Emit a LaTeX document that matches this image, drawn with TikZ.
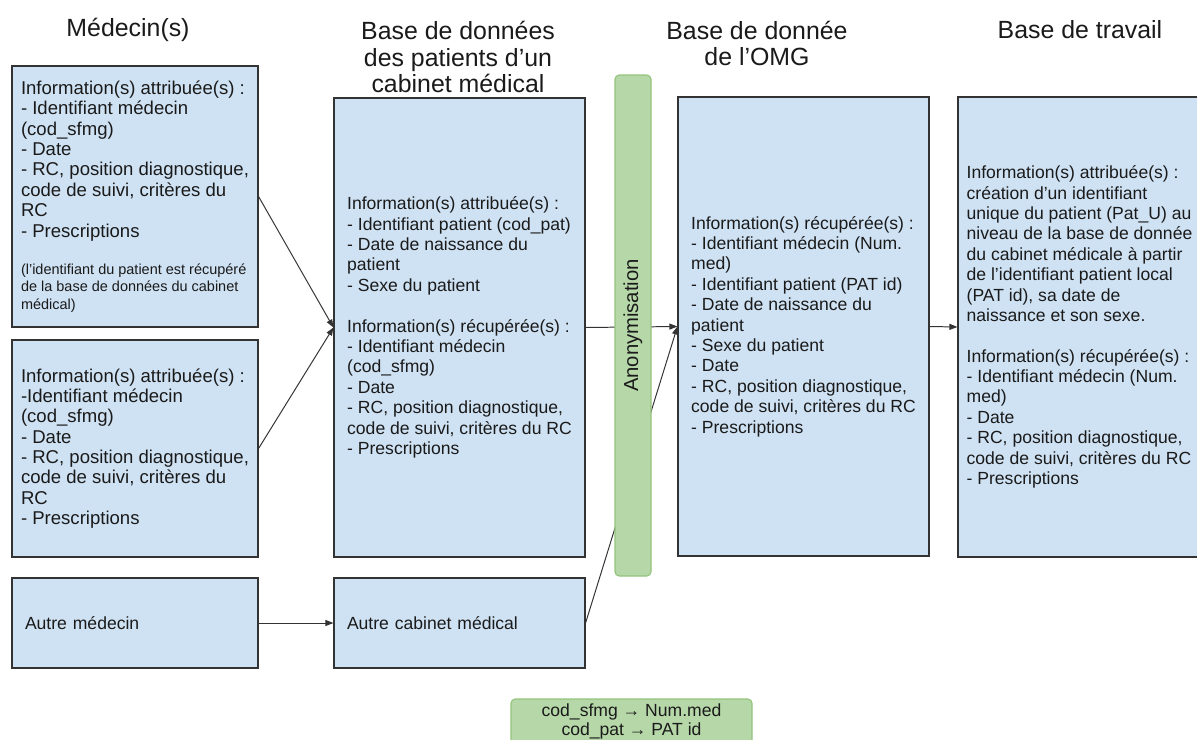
\documentclass[tikz,border=0pt]{standalone}
\usepackage{fontspec}
\setmainfont{Liberation Sans}
\usepackage{xcolor}
\definecolor{MGblue}{HTML}{CFE2F3}
\definecolor{MGgreen}{HTML}{B6D7A8}
\definecolor{MGgreenline}{HTML}{93C47D}
\definecolor{MGline}{HTML}{333333}
\definecolor{MGtext}{HTML}{1A1A1A}
\usepackage{tikz}
\usetikzlibrary{arrows.meta}
\newcommand{\notefont}{\fontsize{10.3}{12.4}\selectfont}

\begin{document}
\begin{tikzpicture}[
  box/.style={draw=MGline,line width=0.8pt,fill=MGblue,minimum width=6.15cm,
    align=left,inner sep=0pt,text=MGtext,font=\fontsize{12.5}{14.5}\selectfont},
  medbox/.style={box,font=\fontsize{13.2}{14.5}\selectfont},
  widebox/.style={box,minimum width=6.275cm,minimum height=11.475cm},
  title/.style={font=\fontsize{17.7}{18.9}\selectfont,align=center,text=MGtext},
  anon/.style={draw=MGgreenline,line width=0.8pt,fill=MGgreen,rounded corners=3pt,
    text=MGtext,font=\fontsize{14.4}{16}\selectfont,inner sep=0pt},
  edge/.style={-{Triangle[length=2mm,width=1.5mm]},draw=MGline,line width=0.7pt}]
\useasboundingbox (0,0) rectangle (29.925,-18.5);
% column titles
\node[title] (tmed) at (3.2,-0.75) {Médecin(s)};
\node[title] (tcab) at (11.45,-1.425) {Base de données\\des patients d’un\\cabinet médical};
\node[title] (tomg) at (18.925,-1.0875) {Base de donnée\\de l’OMG};
\node[title] (ttrav) at (27.0,-0.75) {Base de travail};
% doctors
\node[medbox,minimum height=6.525cm] (med1) at (3.375,-4.9125) {Information(s) attribuée(s) :\\
- Identifiant médecin\\
(cod\_sfmg)\\
- Date\\
- RC, position diagnostique,\\
code de suivi, critères du\\
RC\\
- Prescriptions\\[12pt]
\notefont (l’identifiant du patient est récupéré\\[-2.1pt]
\notefont de la base de données du cabinet\\[-2.1pt]
\notefont médical)};
\node[medbox,minimum height=5.425cm] (med2) at (3.375,-11.2125) {Information(s) attribuée(s) :\\
-Identifiant médecin\\
(cod\_sfmg)\\
- Date\\
- RC, position diagnostique,\\
code de suivi, critères du\\
RC\\
- Prescriptions};
\node[box,minimum height=2.25cm,text width=5.5cm] (med3) at (3.375,-15.575) {Autre médecin};
% databases
\node[widebox] (cab) at (11.4875,-8.1875) {Information(s) attribuée(s) :\\
- Identifiant patient (cod\_pat)\\
- Date de naissance du\\
patient\\
- Sexe du patient\\[14.5pt]
Information(s) récupérée(s) :\\
- Identifiant médecin\\
(cod\_sfmg)\\
- Date\\
- RC, position diagnostique,\\
code de suivi, critères du RC\\
- Prescriptions};
\node[box,minimum width=6.275cm,minimum height=2.25cm,text width=5.625cm] (cab2) at (11.4875,-15.575) {Autre cabinet médical};
\node[widebox] (omg) at (20.0875,-8.1625) {Information(s) récupérée(s) :\\
- Identifiant médecin (Num.\\
med)\\
- Identifiant patient (PAT id)\\
- Date de naissance du\\
patient\\
- Sexe du patient\\
- Date\\
- RC, position diagnostique,\\
code de suivi, critères du RC\\
- Prescriptions};
\node[box,minimum width=6.075cm,minimum height=11.5cm] (trav) at (26.9875,-8.175) {Information(s) attribuée(s) :\\
création d'un identifiant\\
unique du patient (Pat\_U) au\\
niveau de la base de donnée\\
du cabinet médicale à partir\\
de l'identifiant patient local\\
(PAT id), sa date de\\
naissance et son sexe.\\[14.5pt]
Information(s) récupérée(s) :\\
- Identifiant médecin (Num.\\
med)\\
- Date\\
- RC, position diagnostique,\\
code de suivi, critères du RC\\
- Prescriptions};
% links
\draw[edge] (med1.east) -- (cab.west);
\draw[edge] (med2.east) -- (cab.west);
\draw[edge] (med3) -- (cab2);
\draw[edge] (cab.east) -- (omg.west);
\draw[edge] (cab2.east) -- (omg.west);
\draw[edge] (omg.east) -- (trav.west);
% anonymisation band over the links
\node[anon,rotate=90,minimum width=12.525cm,minimum height=0.9cm] (anonym) at (15.825,-8.1375) {Anonymisation};
\node[anon,align=center,minimum width=6.025cm,minimum height=1.125cm,
  font=\fontsize{12.5}{13.5}\selectfont] (key) at (15.7875,-18.0375) {cod\_sfmg → Num.med\\cod\_pat → PAT id};
\end{tikzpicture}
\end{document}
